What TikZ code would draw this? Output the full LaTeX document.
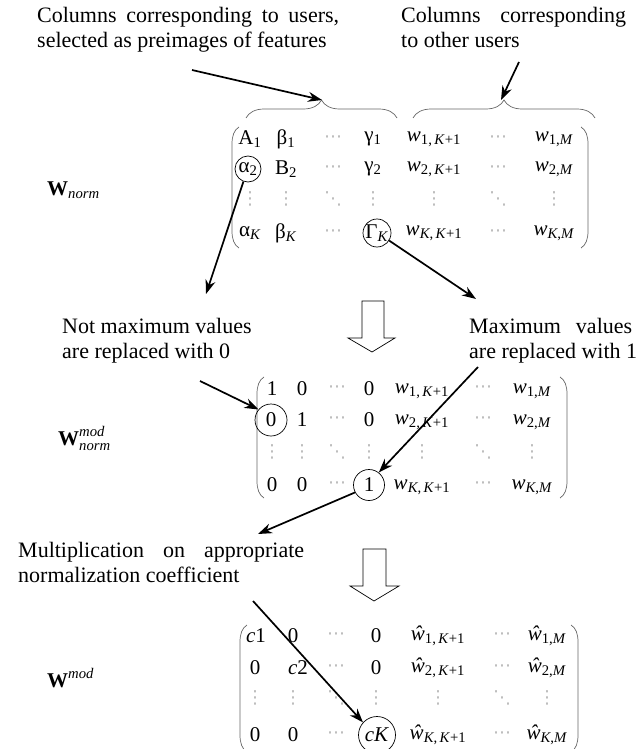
\documentclass[tikz,border=0pt]{standalone}
\usepackage{amsmath}
\usepackage{fontspec}
\setmainfont{Liberation Serif}
\newfontfamily\dvs{DejaVu Sans}
\usetikzlibrary{arrows.meta,decorations.pathreplacing}
\newcommand\sbs[1]{\textsubscript{#1}}
\newcommand\KK{\textit{K}}
\newcommand\MM{\textit{M}}
\newcommand\ww{\textit{w}}
\newcommand\wh{\textit{\^{w}}}
\newcommand\hd{⋯}
\newcommand\vd{⋮}
\newcommand\dd{⋱}
\begin{document}
\begin{tikzpicture}[x=1pt,y=-1pt,
  lbl/.style={inner sep=0pt, anchor=north west, align=left, font=\fontsize{22}{25}\selectfont},
  ent/.style={inner sep=0pt, anchor=center, font=\fontsize{21}{24}\selectfont},
  dt/.style={inner sep=0pt, anchor=center, text=gray!55, font=\dvs\fontsize{18}{18}\selectfont},
  wlab/.style={inner sep=0pt, anchor=base west, font=\fontsize{21}{24}\selectfont},
  ring/.style={draw, circle, line width=0.7pt, inner sep=0pt},
  arr/.style={line width=1.7pt, -{Stealth[length=14pt,width=10pt]}},
  paren/.style={line width=0.7pt, draw=gray!80!black},
  brc/.style={line width=0.7pt, draw=gray!80!black, decorate, decoration={brace, amplitude=18pt}},
  hollow/.style={draw, line width=0.7pt, fill=white, line join=miter}
]
\useasboundingbox (0,0) rectangle (640,749);

% ---------- top texts ----------
\node[lbl] (t1) at (37,7) {\makebox[302pt][s]{Columns corresponding to users,}\\selected as preimages of features};
\node[lbl] (t2) at (401,7) {\makebox[225pt][s]{Columns corresponding}\\to other users};

% braces
\draw[brc] (246,118) -- (397,118);
\draw[brc] (413,118) -- (595,118);
\coordinate (b1) at (322,100);
\coordinate (b2) at (501,100);
\coordinate (t1a) at (192,70);
\coordinate (t2a) at (519,62);
\draw[arr] (t1a) -- (b1);
\draw[arr] (t2a) -- (b2);

% ---------- matrix 1 ----------
\node[wlab] (w1) at (47,195) {\textbf{W}\sbs{\textit{norm}}};
\draw[paren] (239,127) .. controls (234,130) and (232,136) .. (232,144) -- (232,231) .. controls (232,239) and (234,245) .. (239,248);
\draw[paren] (581,127) .. controls (586,130) and (588,136) .. (588,144) -- (588,231) .. controls (588,239) and (586,245) .. (581,248);
\node[ent] (a11) at (250,139) {A\sbs{1}};
\node[ent] (a12) at (286,139) {β\sbs{1}};
\node[dt]  (a13) at (333,139) {\hd};
\node[ent] (a14) at (373,139) {γ\sbs{1}};
\node[ent] (a15) at (434,139) {\ww\sbs{1,\,\KK+1}};
\node[dt]  (a16) at (498,139) {\hd};
\node[ent] (a17) at (554,139) {\ww\sbs{1,\MM}};
\node[ent] (a21) at (248,169) {α\sbs{2}};
\node[ent] (a22) at (286,169) {B\sbs{2}};
\node[dt]  (a23) at (333,169) {\hd};
\node[ent] (a24) at (373,169) {γ\sbs{2}};
\node[ent] (a25) at (434,169) {\ww\sbs{2,\,\KK+1}};
\node[dt]  (a26) at (498,169) {\hd};
\node[ent] (a27) at (554,169) {\ww\sbs{2,\MM}};
\node[dt] (a31) at (250,199) {\vd};
\node[dt] (a32) at (286,199) {\vd};
\node[dt] (a33) at (333,199) {\dd};
\node[dt] (a34) at (373,199) {\vd};
\node[dt] (a35) at (434,199) {\vd};
\node[dt] (a36) at (498,199) {\dd};
\node[dt] (a37) at (554,199) {\vd};
\node[ent] (a41) at (250,233) {α\sbs{\KK}};
\node[ent] (a42) at (286,233) {β\sbs{\KK}};
\node[dt]  (a43) at (333,233) {\hd};
\node[ent] (a44) at (377,233) {Γ\sbs{\KK}};
\node[ent] (a45) at (434,233) {\ww\sbs{\KK,\,\KK+1}};
\node[dt]  (a46) at (498,233) {\hd};
\node[ent] (a47) at (554,233) {\ww\sbs{\KK,\MM}};
\node[ring, minimum size=26pt] (r1) at (a21.center) {};
\node[ring, minimum size=28pt] (r2) at (a44.center) {};

% ---------- middle texts ----------
\node[lbl] (t3) at (62,318) {Not maximum values\\are replaced with 0};
\node[lbl] (t4) at (469,318) {\makebox[163pt][s]{Maximum values}\\are replaced with 1};
\coordinate (t3h) at (206,294);
\coordinate (t4h) at (476,299);
\draw[arr] (r1.250) -- (t3h);
\draw[arr] (r2.-32) -- (t4h);
\draw[hollow] (362,301) -- (384,301) -- (384,338) -- (395,338) -- (372,352) -- (348,338) -- (362,338) -- cycle;

% ---------- matrix 2 ----------
\node[wlab] (w2) at (58,445) {$\textbf{W}^{\text{\itshape mod}}_{\text{\itshape norm}}$};
\draw[paren] (264,377) .. controls (259,380) and (257,386) .. (257,394) -- (257,481) .. controls (257,489) and (259,495) .. (264,498);
\draw[paren] (560,377) .. controls (565,380) and (567,386) .. (567,394) -- (567,481) .. controls (567,489) and (565,495) .. (560,498);
\node[ent] (b11) at (272,389) {1};
\node[ent] (b12) at (302,389) {0};
\node[dt]  (b13) at (337,389) {\hd};
\node[ent] (b14) at (369,389) {0};
\node[ent] (b15) at (422,391) {\ww\sbs{1,\,\KK+1}};
\node[dt]  (b16) at (483,389) {\hd};
\node[ent] (b17) at (532,391) {\ww\sbs{1,\MM}};
\node[ent] (b21) at (271,420) {0};
\node[ent] (b22) at (302,420) {1};
\node[dt]  (b23) at (337,420) {\hd};
\node[ent] (b24) at (369,420) {0};
\node[ent] (b25) at (422,422) {\ww\sbs{2,\,\KK+1}};
\node[dt]  (b26) at (483,420) {\hd};
\node[ent] (b27) at (532,422) {\ww\sbs{2,\MM}};
\node[dt] (b31) at (272,452) {\vd};
\node[dt] (b32) at (302,452) {\vd};
\node[dt] (b33) at (337,452) {\dd};
\node[dt] (b34) at (369,452) {\vd};
\node[dt] (b35) at (422,452) {\vd};
\node[dt] (b36) at (483,452) {\dd};
\node[dt] (b37) at (532,452) {\vd};
\node[ent] (b41) at (272,485) {0};
\node[ent] (b42) at (302,485) {0};
\node[dt]  (b43) at (337,485) {\hd};
\node[ent] (b44) at (369,485) {1};
\node[ent] (b45) at (422,487) {\ww\sbs{\KK,\,\KK+1}};
\node[dt]  (b46) at (483,485) {\hd};
\node[ent] (b47) at (532,487) {\ww\sbs{\KK,\MM}};
\node[ring, minimum size=32pt] (r3) at (b21.center) {};
\node[ring, minimum size=31pt] (r4) at (b44.center) {};
\coordinate (t3a) at (200,381);
\coordinate (t4a) at (478,367);
\draw[arr] (t3a) -- (r3.140);
\draw[arr] (t4a) -- (r4.52);

% ---------- lower text ----------
\node[lbl] (t5) at (18,542) {\makebox[286pt][s]{Multiplication on appropriate}\\normalization coefficient};
\coordinate (t5h) at (258,534);
\draw[arr] (r4.208) -- (t5h);
\draw[hollow] (363,549) -- (386,549) -- (386,586) -- (399,586) -- (374,601) -- (350,586) -- (363,586) -- cycle;

% ---------- matrix 3 ----------
\node[wlab] (w3) at (47,687) {$\textbf{W}^{\text{\itshape mod}}$};
\draw[paren] (247,625) .. controls (242,628) and (240,634) .. (240,642) -- (240,735) .. controls (240,743) and (242,749) .. (247,752);
\draw[paren] (571,625) .. controls (576,628) and (578,634) .. (578,642) -- (578,735) .. controls (578,743) and (576,749) .. (571,752);
\node[ent] (c11) at (256,636) {\textit{c}1};
\node[ent] (c12) at (293,636) {0};
\node[dt]  (c13) at (336,636) {\hd};
\node[ent] (c14) at (376,636) {0};
\node[ent] (c15) at (438,636) {\wh\sbs{1,\,\KK+1}};
\node[dt]  (c16) at (502,636) {\hd};
\node[ent] (c17) at (547,636) {\wh\sbs{1,\MM}};
\node[ent] (c21) at (255,668) {0};
\node[ent] (c22) at (298,668) {\textit{c}2};
\node[dt]  (c23) at (336,668) {\hd};
\node[ent] (c24) at (376,668) {0};
\node[ent] (c25) at (438,668) {\wh\sbs{2,\,\KK+1}};
\node[dt]  (c26) at (502,668) {\hd};
\node[ent] (c27) at (547,668) {\wh\sbs{2,\MM}};
\node[dt] (c31) at (255,698) {\vd};
\node[dt] (c32) at (293,698) {\vd};
\node[dt] (c33) at (336,698) {\dd};
\node[dt] (c34) at (376,698) {\vd};
\node[dt] (c35) at (438,698) {\vd};
\node[dt] (c36) at (502,698) {\dd};
\node[dt] (c37) at (547,698) {\vd};
\node[ent] (c41) at (255,735) {0};
\node[ent] (c42) at (293,735) {0};
\node[dt]  (c43) at (336,735) {\hd};
\node[ent] (c44) at (377,735) {\textit{cK}};
\node[ent] (c45) at (438,735) {\wh\sbs{\KK,\,\KK+1}};
\node[dt]  (c46) at (502,735) {\hd};
\node[ent] (c47) at (547,735) {\wh\sbs{\KK,\MM}};
\node[ring, minimum size=37pt] (r5) at (c44.center) {};
\coordinate (t5a) at (253,601);
\draw[arr] (t5a) -- (r5.138);
\end{tikzpicture}
\end{document}
